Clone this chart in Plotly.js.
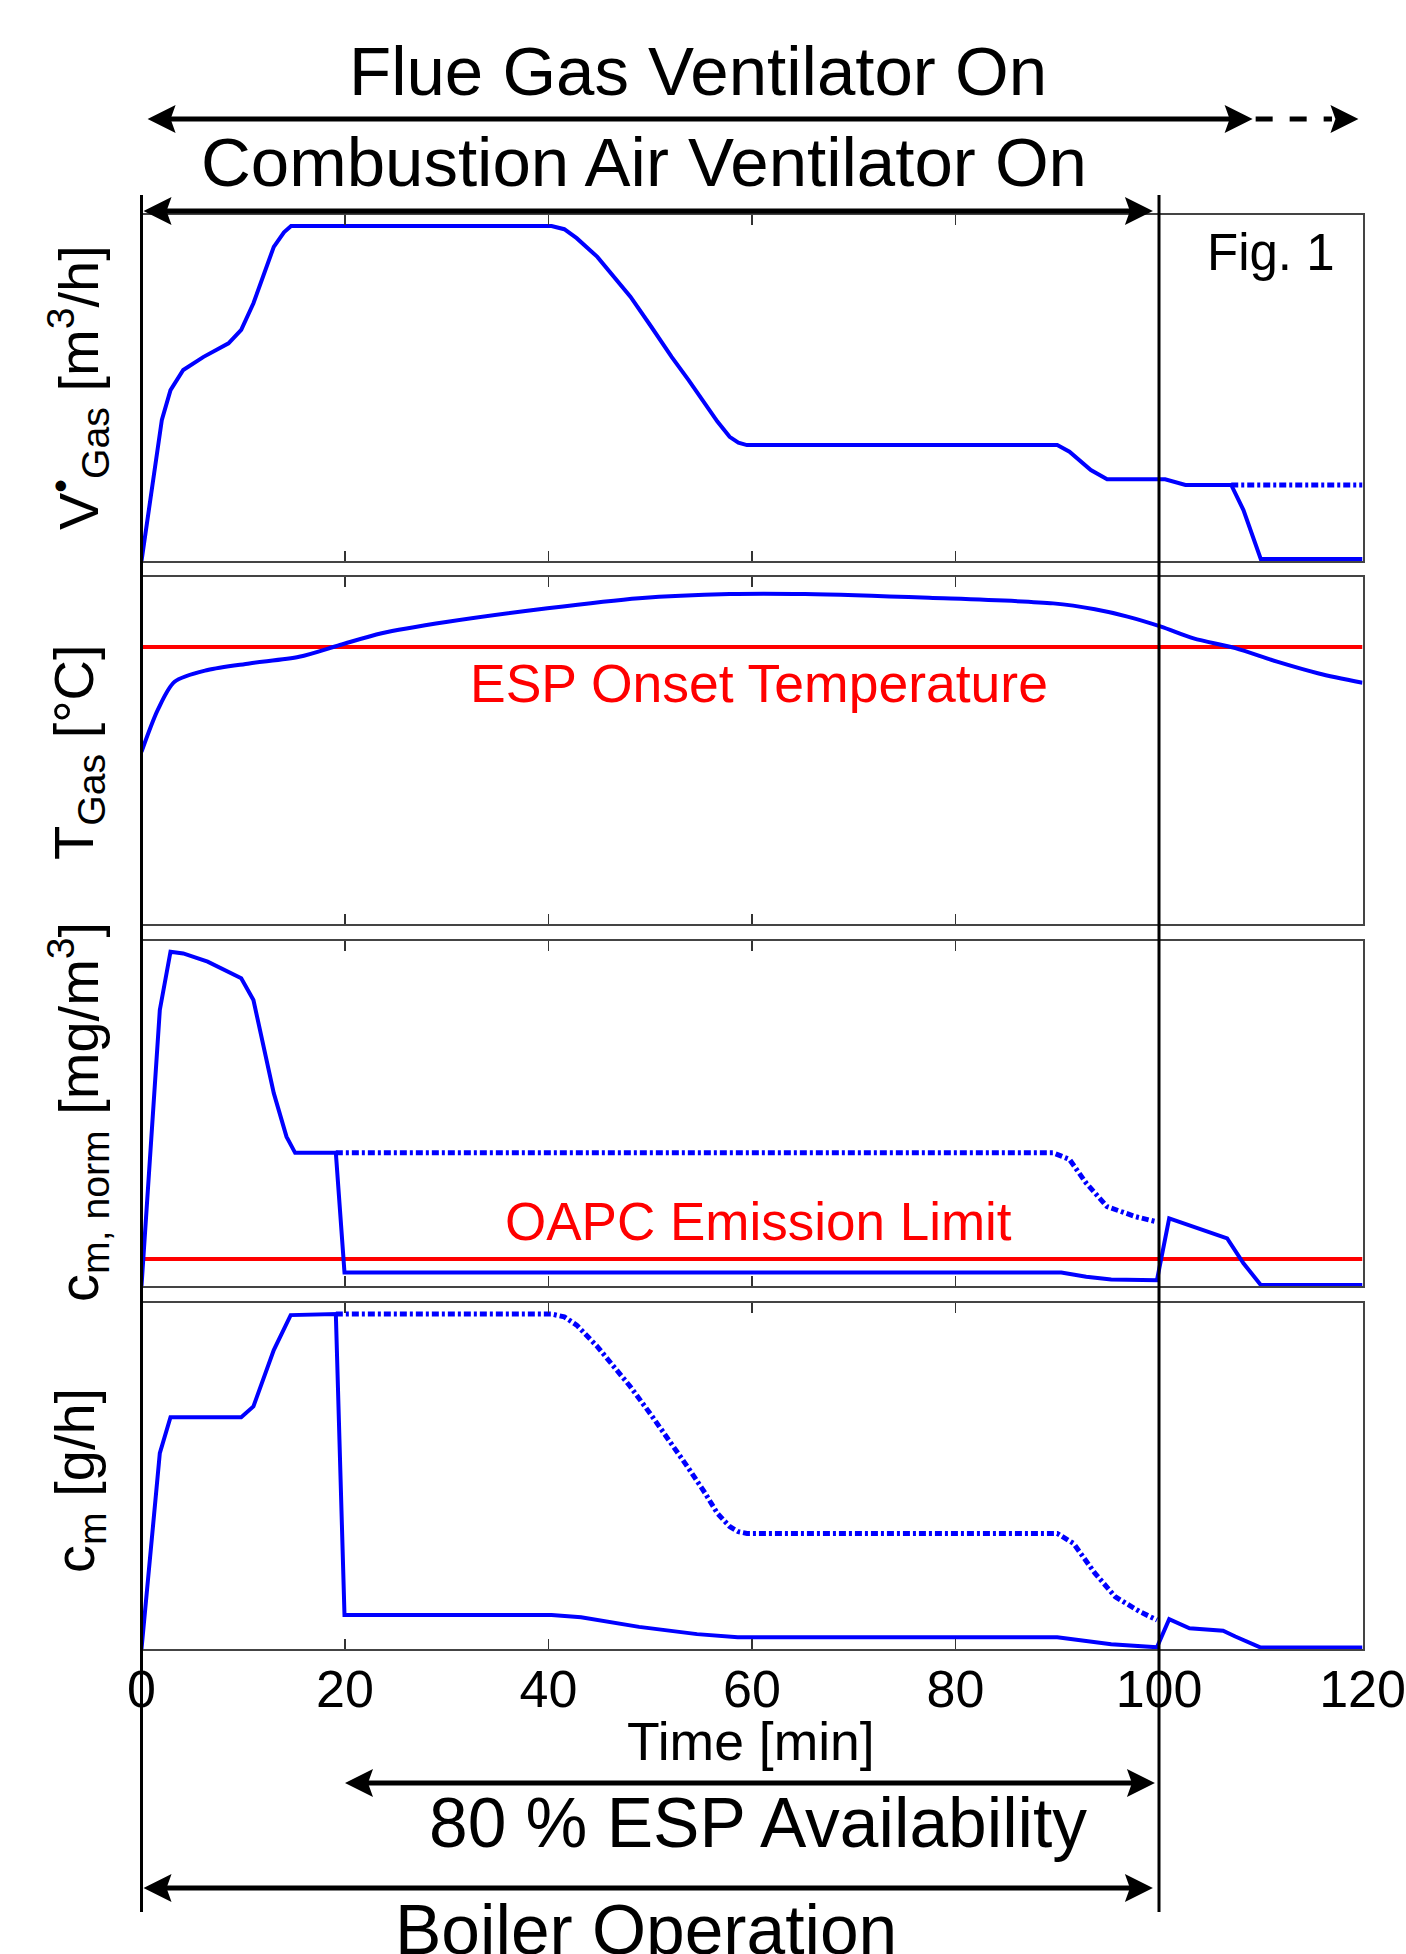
<!DOCTYPE html>
<html><head><meta charset="utf-8">
<script src="https://cdn.plot.ly/plotly-3.0.1.min.js"></script>
<style>html,body{margin:0;padding:0;background:#fff;}#chart{width:1406px;height:1954px;}</style>
</head><body><div id="chart"></div>
<script>
// ---------- DATA (values in % of panel height, time in min) ----------
const time_ticks = [0, 20, 40, 60, 80, 100, 120];
const tick_labels = ["0", "20", "40", "60", "80", "100", "120"];

// Panel 1: flue gas volume flow
const t_vgas = [0, 2.0, 2.85, 4.1, 6.1, 8.55, 9.8, 11.0, 13.0, 14.0, 14.7, 40.3, 41.55, 42.77, 44.8, 46.44, 48.05, 50.1, 52.1, 53.77, 55.4, 56.6, 57.8, 58.66, 59.5, 90.0, 91.2, 93.3, 94.9, 100.6, 102.6, 107.1, 108.3, 110.0, 120];
const v_gas = [0, 40.8, 49.4, 55.2, 59.0, 62.9, 66.8, 74.5, 90.8, 95.0, 96.8, 96.8, 95.9, 93.3, 87.9, 82.2, 76.4, 67.7, 59.0, 52.3, 45.6, 40.3, 35.9, 34.2, 33.5, 33.5, 31.6, 26.3, 23.6, 23.6, 22.0, 22.0, 14.7, 0.6, 0.6];
const t_vgas_dot = [107.1, 120];
const v_gas_dot = [22.0, 22.0];

// Panel 2: flue gas temperature
const t_tgas = [0, 1.6, 3.25, 6.5, 10.6, 15.5, 19.5, 23.6, 30.1, 39.9, 48.9, 57.8, 65.2, 77.4, 89.6, 93.7, 96.9, 100.2, 103.4, 107.5, 111.6, 115.7, 120];
const temp_gas = [49.6, 61.7, 69.8, 73.2, 75.1, 77.0, 80.4, 83.8, 87.1, 91.0, 93.9, 95.1, 95.1, 94.0, 92.4, 90.7, 88.6, 85.7, 82.3, 79.5, 75.6, 72.2, 69.5];
const esp_onset = 79.8;

// Panel 3: normalised mass concentration
const t_cnorm = [0, 1.8, 2.85, 4.1, 6.5, 9.8, 11.0, 13.0, 14.25, 15.1, 19.1, 19.95, 90.4, 92.85, 95.3, 99.8, 101.0, 103.4, 106.7, 108.3, 110.0, 120];
const c_norm = [0, 80.0, 96.9, 96.4, 94.0, 89.2, 82.9, 55.9, 43.3, 38.6, 38.6, 3.9, 3.9, 2.7, 1.9, 1.7, 19.6, 17.2, 13.8, 6.6, 0.3, 0.3];
const t_cnorm_dot = [19.1, 89.6, 91.2, 92.85, 94.9, 97.7, 99.8];
const c_norm_dot = [38.6, 38.6, 36.7, 29.8, 23.0, 20.1, 18.6];
const oapc_limit = 7.8;

// Panel 4: mass flow of dust
const t_cm = [0, 1.8, 2.85, 9.8, 11.0, 13.0, 14.66, 19.1, 19.95, 40.3, 43.2, 48.9, 54.6, 58.6, 90.0, 92.0, 95.3, 99.8, 101.0, 103.0, 106.3, 107.5, 110.0, 120];
const c_m = [0, 56.6, 67.0, 67.0, 70.1, 86.4, 96.5, 96.8, 9.8, 9.8, 9.2, 6.4, 4.3, 3.4, 3.4, 2.6, 1.4, 0.5, 8.6, 6.0, 5.3, 3.6, 0.4, 0.4];
const t_cm_dot = [19.1, 40.3, 41.55, 42.77, 44.8, 46.44, 48.05, 50.1, 52.1, 53.77, 55.4, 56.6, 57.8, 58.66, 59.5, 90.0, 91.6, 93.7, 95.7, 98.1, 99.8];
const c_m_dot = [96.8, 96.8, 96.0, 93.6, 87.4, 81.4, 75.8, 67.6, 59.4, 52.2, 45.0, 39.2, 35.4, 33.9, 33.4, 33.4, 30.5, 21.9, 15.1, 10.8, 8.4];

// ---------- LAYOUT HELPERS ----------
const W = 1406, H = 1954;
const FONT = "Liberation Sans, Arial, Helvetica, sans-serif";
const PX = p => p / W;
const PY = p => 1 - p / H;
const X0 = 141.5, X1 = 1362.5;
const tx = t => PX(X0 + (X1 - X0) * t / 120);
const dom = (top, bot) => [PY(bot), PY(top)];
const BLUE = "#0000ff", RED = "#ff0000";

const panels = [[215, 561], [577, 924], [941, 1286], [1303, 1649]];

function xax(anchor, showLabels) {
  return {
    domain: [PX(X0), PX(X1)], range: [0, 120], anchor: anchor,
    tickvals: time_ticks, ticktext: tick_labels, showticklabels: showLabels,
    ticks: "inside", ticklen: 10, tickwidth: 1.5, tickcolor: "#333",
    mirror: "allticks", showline: true, linecolor: "#444", linewidth: 2,
    showgrid: false, zeroline: false, ticklabelstandoff: -6,
    tickfont: {family: FONT, size: 52, color: "#000"}
  };
}
function yax(anchor, i) {
  return {
    domain: dom(panels[i][0], panels[i][1]), range: [0, 100], anchor: anchor,
    showticklabels: false, ticks: "", showline: true, mirror: true,
    linecolor: "#444", linewidth: 2, showgrid: false, zeroline: false, fixedrange: true
  };
}

const solid = {color: BLUE, width: 4};
const smooth = {color: BLUE, width: 4, shape: "spline", smoothing: 0.8};
const dotted = {color: BLUE, width: 5, dash: "7px,3px,3px,3px"};
const redl = {color: RED, width: 4};

const traces = [
  {x: t_vgas, y: v_gas, xaxis: "x", yaxis: "y", mode: "lines", line: solid},
  {x: t_vgas_dot, y: v_gas_dot, xaxis: "x", yaxis: "y", mode: "lines", line: dotted},
  {x: [0, 120], y: [esp_onset, esp_onset], xaxis: "x2", yaxis: "y2", mode: "lines", line: redl},
  {x: t_tgas, y: temp_gas, xaxis: "x2", yaxis: "y2", mode: "lines", line: smooth},
  {x: [0, 120], y: [oapc_limit, oapc_limit], xaxis: "x3", yaxis: "y3", mode: "lines", line: redl},
  {x: t_cnorm_dot, y: c_norm_dot, xaxis: "x3", yaxis: "y3", mode: "lines", line: dotted},
  {x: t_cnorm, y: c_norm, xaxis: "x3", yaxis: "y3", mode: "lines", line: solid},
  {x: t_cm_dot, y: c_m_dot, xaxis: "x4", yaxis: "y4", mode: "lines", line: dotted},
  {x: t_cm, y: c_m, xaxis: "x4", yaxis: "y4", mode: "lines", line: solid}
];

// arrows
const shapes = [];
function head(tTip, ypx, dir) { // dir: -1 pointing left, +1 pointing right
  const L = 28, h = 14;
  const xt = X0 + (X1 - X0) * tTip / 120;
  const xb = xt - dir * L;
  shapes.push({type: "path", xref: "paper", yref: "paper",
    path: `M ${PX(xt)},${PY(ypx)} L ${PX(xb)},${PY(ypx - h)} L ${PX(xb + dir * 5)},${PY(ypx)} L ${PX(xb)},${PY(ypx + h)} Z`,
    fillcolor: "#000", line: {width: 0}});
}
function lineSeg(t1, t2, ypx, dash) {
  shapes.push({type: "line", xref: "paper", yref: "paper",
    x0: tx(t1), x1: tx(t2), y0: PY(ypx), y1: PY(ypx),
    line: {color: "#000", width: 5, dash: dash || "solid"}});
}
function dbl(t1, t2, ypx) {
  lineSeg(t1 + 1.5, t2 - 1.5, ypx);
  head(t1, ypx, -1); head(t2, ypx, 1);
}
// vertical markers at t = 0 and t = 100
[0, 100].forEach(t => shapes.push({type: "line", xref: "paper", yref: "paper",
  x0: tx(t), x1: tx(t), y0: PY(195), y1: PY(1912), line: {color: "#000", width: 3}}));

// Flue gas ventilator: solid to ~109, dashed continuation to ~120
dbl(0.6, 109.2, 119);
lineSeg(109.5, 117.0, 119, "17px,17px");
head(119.6, 119, 1);
dbl(0.2, 99.4, 211);      // combustion air ventilator
dbl(20.0, 99.6, 1783);    // 80 % ESP availability
dbl(0.2, 99.4, 1888);     // boiler operation

function ann(text, xpx, ypx, size, color, extra) {
  return Object.assign({text: text, xref: "paper", yref: "paper", x: PX(xpx), y: PY(ypx),
    xanchor: "center", yanchor: "middle", showarrow: false,
    font: {family: FONT, size: size, color: color || "#000"}}, extra || {});
}
const annotations = [
  ann("Flue Gas Ventilator On", 698, 72, 69),
  ann("Combustion Air Ventilator On", 644, 162, 69),
  ann("Fig. 1", 1271, 252, 51),
  ann("ESP Onset Temperature", 759, 683, 53.5, RED),
  ann("OAPC Emission Limit", 758, 1221, 53, RED),
  ann("Time [min]", 751, 1741, 53.5),
  ann("80 % ESP Availability", 758, 1823, 69.5),
  ann("Boiler Operation", 646, 1930, 69.5),
  ann("V<sup>•</sup><sub>Gas</sub> [m<sup>3</sup>/h]", 78, 388, 56, "#000", {textangle: -90}),
  ann("T<sub>Gas</sub> [°C]", 78, 752, 56, "#000", {textangle: -90}),
  ann("c<sub>m, norm</sub> [mg/m<sup>3</sup>]", 78, 1112, 56, "#000", {textangle: -90}),
  ann("c<sub>m</sub> [g/h]", 78, 1481, 56, "#000", {textangle: -90})
];

const layout = {
  width: W, height: H, margin: {l: 0, r: 0, t: 0, b: 0},
  paper_bgcolor: "#fff", plot_bgcolor: "#fff", showlegend: false,
  font: {family: FONT, color: "#000"},
  xaxis: xax("y", false), yaxis: yax("x", 0),
  xaxis2: xax("y2", false), yaxis2: yax("x2", 1),
  xaxis3: xax("y3", false), yaxis3: yax("x3", 2),
  xaxis4: xax("y4", true), yaxis4: yax("x4", 3),
  shapes: shapes, annotations: annotations
};
Plotly.newPlot("chart", traces, layout, {staticPlot: true, displayModeBar: false});
</script></body></html>
